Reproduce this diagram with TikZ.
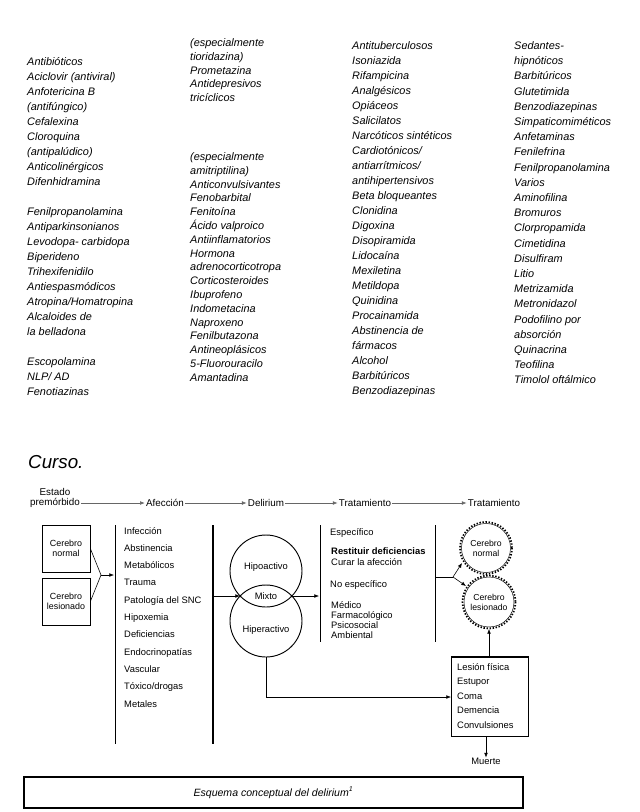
\documentclass[tikz,border=0pt]{standalone}
\usepackage{fontspec}
\setmainfont{Liberation Sans}
\usetikzlibrary{arrows.meta}
\usetikzlibrary{positioning}

\tikzset{
  lista/.style={anchor=base west,inner sep=0pt,font=\itshape\fontsize{9.3}{11}\selectfont},
  item/.style={anchor=base west,inner sep=0pt,font=\fontsize{8}{9}\selectfont},
  etiqueta/.style={inner sep=1pt,align=center,font=\fontsize{8.4}{9.2}\selectfont},
  caja/.style={draw,line width=0.6pt,minimum width=48*0.03cm,minimum height=47*0.03cm,align=center,inner sep=1pt,font=\fontsize{7.6}{8.6}\selectfont},
  flecha/.style={draw,line width=0.5pt,-{Latex[length=4pt,width=3.2pt]}},
  cerebro/.style={circle,align=center,inner sep=0pt,font=\fontsize{7.4}{8.4}\selectfont}
}

\begin{document}
\begin{tikzpicture}[x=0.03cm,y=-0.03cm]
  \useasboundingbox (0,0) rectangle (639,812);

  % columnas de farmacos
  \foreach \t [count=\i from 0] in {Antibióticos,Aciclovir (antiviral),Anfotericina B,{(antifúngico)},Cefalexina,Cloroquina,{(antipalúdico)},Anticolinérgicos,Difenhidramina,{},Fenilpropanolamina,Antiparkinsonianos,Levodopa- carbidopa,Biperideno,Trihexifenidilo,Antiespasmódicos,Atropina/Homatropina,Alcaloides de,la belladona,{},Escopolamina,NLP/ AD,Fenotiazinas}
    \node[lista] (ca-\i) at (27,65.5+15*\i) {\t};
  \foreach \t [count=\i from 0] in {{(especialmente},{tioridazina)},Prometazina,Antidepresivos,tricíclicos}
    \node[lista] (cb-\i) at (190,46.5+13.8*\i) {\t};
  \foreach \t [count=\i from 0] in {{(especialmente},{amitriptilina)},Anticonvulsivantes,Fenobarbital,Fenitoína,Ácido valproico,Antiinflamatorios,Hormona,adrenocorticotropa,Corticosteroides,Ibuprofeno,Indometacina,Naproxeno,Fenilbutazona,Antineoplásicos,5-Fluorouracilo,Amantadina}
    \node[lista] (cc-\i) at (190,160.5+13.8*\i) {\t};
  \foreach \t [count=\i from 0] in {Antituberculosos,Isoniazida,Rifampicina,Analgésicos,Opiáceos,Salicilatos,Narcóticos sintéticos,Cardiotónicos/,antiarrítmicos/,antihipertensivos,Beta bloqueantes,Clonidina,Digoxina,Disopiramida,Lidocaína,Mexiletina,Metildopa,Quinidina,Procainamida,Abstinencia de,fármacos,Alcohol,Barbitúricos,Benzodiazepinas}
    \node[lista] (cd-\i) at (352,49.5+15*\i) {\t};
  \foreach \t [count=\i from 0] in {Sedantes-,hipnóticos,Barbitúricos,Glutetimida,Benzodiazepinas,Simpaticomiméticos,Anfetaminas,Fenilefrina,Fenilpropanolamina,Varios,Aminofilina,Bromuros,Clorpropamida,Cimetidina,Disulfiram,Litio,Metrizamida,Metronidazol,Podofilino por,absorción,Quinacrina,Teofilina,Timolol oftálmico}
    \node[lista] (ce-\i) at (514,49.5+15.2*\i) {\t};

  \node[anchor=west,inner sep=0pt,font=\itshape\fontsize{16}{18}\selectfont] (curso) at (28,462) {Curso.};

  % fila de etapas
  \node[etiqueta] (estado) at (55,498) {Estado\\premórbido};
  \node[etiqueta] (afeccion) at (165,503) {Afección};
  \node[etiqueta] (delirium) at (266,503) {Delirium};
  \node[etiqueta] (trata) at (365,503) {Tratamiento};
  \node[etiqueta] (tratb) at (494,503) {Tratamiento};
  \draw[flecha,black!60] (estado.east |- afeccion) -- (afeccion);
  \draw[flecha,black!60] (afeccion) -- (delirium);
  \draw[flecha,black!60] (delirium) -- (trata);
  \draw[flecha,black!60] (trata) -- (tratb);

  % estado premorbido
  \node[caja] (normal) at (66,548.5) {Cerebro\\normal};
  \node[caja] (lesion) at (66,601.5) {Cerebro\\lesionado};
  \coordinate (junta) at (101,575);
  \draw[line width=0.5pt] (normal.east) -- (junta) -- (lesion.east);
  \draw[flecha] (junta) -- (114,575);

  % afeccion
  \draw[line width=0.6pt] (115,525) -- (115,744);
  \draw[line width=1.1pt] (213,525) -- (213,744);
  \foreach \t [count=\i from 0] in {Infección,Abstinencia,Metabólicos,Trauma,Patología del SNC,Hipoxemia,Deficiencias,Endocrinopatías,Vascular,Tóxico/drogas,Metales}
    \node[item] (af-\i) at (124,534+17.3*\i) {\t};

  % delirium
  \draw[line width=0.8pt] (266,571) circle [radius=36];
  \draw[line width=0.8pt] (266,621) circle [radius=36];
  \node[item,anchor=center] (hipo) at (266,567) {Hipoactivo};
  \node[item,anchor=center] (mixto) at (266,596) {Mixto};
  \node[item,anchor=center] (hiper) at (266,630) {Hiperactivo};
  \coordinate (lenteizq) at (240,596);
  \coordinate (lenteder) at (292,596);
  \draw[flecha] (213,596) -- (lenteizq);
  \draw[flecha] (lenteder) -- (319,596);

  % tratamiento
  \draw[line width=0.6pt] (320,525) -- (320,642);
  \draw[line width=0.6pt] (435,525) -- (435,642);
  \node[item] (esp) at (330,535) {Específico};
  \node[item,font=\fontsize{8}{9}\selectfont\bfseries] (restituir) at (331,554) {Restituir deficiencias};
  \node[item] (curar) at (331,565) {Curar la afección};
  \node[item] (noesp) at (330,587) {No específico};
  \node[item] (medico) at (331,608) {Médico};
  \node[item] (farma) at (331,618) {Farmacológico};
  \node[item] (psico) at (331,628) {Psicosocial};
  \node[item] (amb) at (331,638) {Ambiental};

  % resultado
  \draw[line width=1.5pt,dash pattern=on 1.2pt off 1.4pt] (486,548) circle [radius=26];
  \draw[line width=0.4pt] (486,548) circle [radius=24.5];
  \draw[line width=1.5pt,dash pattern=on 1.2pt off 1.4pt] (489,602) circle [radius=26.5];
  \draw[line width=0.4pt] (489,602) circle [radius=25];
  \node[cerebro] (sano) at (486,548) {Cerebro\\normal};
  \node[cerebro] (danado) at (489,602) {Cerebro\\lesionado};
  \coordinate (danadofondo) at (489,629);
  \coordinate (bifurca) at (453,577);
  \draw[line width=0.5pt] (435,577) -- (bifurca);
  \draw[flecha] (bifurca) -- (462,563);
  \draw[flecha] (bifurca) -- (466,586);

  \node[draw,line width=0.6pt,anchor=north west,minimum width=77*0.03cm,minimum height=79*0.03cm] (secuela) at (451,657) {};
  \draw[line width=1.2pt] (secuela.north west) -- (secuela.north east) -- (secuela.south east);
  \foreach \t [count=\i from 0] in {Lesión física,Estupor,Coma,Demencia,Convulsiones}
    \node[item] (sq-\i) at (457,670+14.6*\i) {\t};
  \coordinate (hiperfondo) at (266,657);
  \coordinate (abajo) at (266,697);
  \draw[line width=0.5pt] (hiperfondo) -- (abajo);
  \draw[flecha] (abajo) -- (abajo -| secuela.west);
  \draw[flecha] (secuela.north -| danadofondo) -- (danadofondo);
  \node[item,anchor=center] (muerte) at (486,761) {Muerte};
  \draw[flecha] (muerte |- secuela.south) -- (muerte.north);

  % pie
  \node[draw,line width=1pt,minimum width=499*0.03cm,minimum height=31*0.03cm,font=\itshape\fontsize{9}{10}\selectfont] (pie) at (273.5,792.5) {Esquema conceptual del delirium\textsuperscript{1}};
\end{tikzpicture}
\end{document}
